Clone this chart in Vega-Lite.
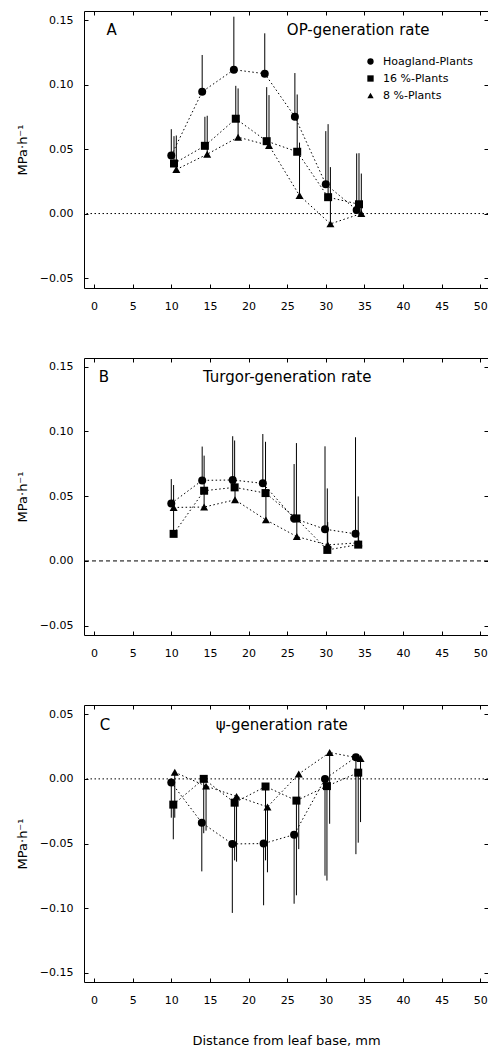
{
  "$schema": "https://vega.github.io/schema/vega-lite/v6.json",
  "padding": {"left": 15, "top": 10, "right": 0, "bottom": 0},
  "background": "white",
  "bounds": "flush",
  "spacing": 70,
  "config": {
    "view": {"stroke": "black", "strokeWidth": 1},
    "font": "DejaVu Sans",
    "axis": {"domain": false, "grid": false, "tickSize": -4, "tickColor": "black", "tickWidth": 1, "labelFont": "DejaVu Sans", "labelFontSize": 11, "labelColor": "black", "titleFont": "DejaVu Sans", "titleColor": "black", "titleFontWeight": "normal"},
    "legend": {"labelFont": "DejaVu Sans", "labelFontSize": 11, "labelColor": "black"}
  },
  "resolve": {"scale": {"shape": "independent"}, "legend": {"shape": "independent"}},
  "datasets": {
    "A": [
      {"s": "Hoagland-Plants", "x": 10, "y": 0.045, "e": 0.0654},
      {"s": "Hoagland-Plants", "x": 14, "y": 0.0944, "e": 0.1229},
      {"s": "Hoagland-Plants", "x": 18.1, "y": 0.1115, "e": 0.1526},
      {"s": "Hoagland-Plants", "x": 22.1, "y": 0.1084, "e": 0.1397},
      {"s": "Hoagland-Plants", "x": 26, "y": 0.075, "e": 0.1089},
      {"s": "Hoagland-Plants", "x": 30, "y": 0.0228, "e": 0.0639},
      {"s": "Hoagland-Plants", "x": 34, "y": 0.0028, "e": 0.0466},
      {"s": "16 %-Plants", "x": 10.35, "y": 0.0388, "e": 0.06},
      {"s": "16 %-Plants", "x": 14.35, "y": 0.0525, "e": 0.075},
      {"s": "16 %-Plants", "x": 18.35, "y": 0.0735, "e": 0.099},
      {"s": "16 %-Plants", "x": 22.35, "y": 0.0561, "e": 0.098},
      {"s": "16 %-Plants", "x": 26.3, "y": 0.0479, "e": 0.0923},
      {"s": "16 %-Plants", "x": 30.3, "y": 0.0127, "e": 0.0693},
      {"s": "16 %-Plants", "x": 34.3, "y": 0.0072, "e": 0.0468},
      {"s": "8 %-Plants", "x": 10.65, "y": 0.0341, "e": 0.0605},
      {"s": "8 %-Plants", "x": 14.65, "y": 0.046, "e": 0.0758},
      {"s": "8 %-Plants", "x": 18.65, "y": 0.0592, "e": 0.097},
      {"s": "8 %-Plants", "x": 22.65, "y": 0.0528, "e": 0.0918},
      {"s": "8 %-Plants", "x": 26.6, "y": 0.014, "e": 0.055},
      {"s": "8 %-Plants", "x": 30.6, "y": -0.008, "e": 0.036},
      {"s": "8 %-Plants", "x": 34.6, "y": 0.0, "e": 0.031}
    ],
    "B": [
      {"s": "Hoagland-Plants", "x": 10, "y": 0.0444, "e": 0.0632},
      {"s": "Hoagland-Plants", "x": 14, "y": 0.0622, "e": 0.0883},
      {"s": "Hoagland-Plants", "x": 17.95, "y": 0.0625, "e": 0.0963},
      {"s": "Hoagland-Plants", "x": 21.85, "y": 0.0599, "e": 0.098},
      {"s": "Hoagland-Plants", "x": 25.9, "y": 0.0328, "e": 0.0748},
      {"s": "Hoagland-Plants", "x": 29.9, "y": 0.0245, "e": 0.0885},
      {"s": "Hoagland-Plants", "x": 33.85, "y": 0.0209, "e": 0.0955},
      {"s": "16 %-Plants", "x": 10.3, "y": 0.0209, "e": 0.0586},
      {"s": "16 %-Plants", "x": 14.25, "y": 0.0542, "e": 0.0813},
      {"s": "16 %-Plants", "x": 18.2, "y": 0.0568, "e": 0.093},
      {"s": "16 %-Plants", "x": 22.2, "y": 0.0524, "e": 0.092},
      {"s": "16 %-Plants", "x": 26.2, "y": 0.0328, "e": 0.091},
      {"s": "16 %-Plants", "x": 30.2, "y": 0.0085, "e": 0.056},
      {"s": "16 %-Plants", "x": 34.2, "y": 0.0126, "e": 0.0498},
      {"s": "8 %-Plants", "x": 10.3, "y": 0.0413, "e": 0.048},
      {"s": "8 %-Plants", "x": 14.25, "y": 0.0416, "e": 0.054},
      {"s": "8 %-Plants", "x": 18.25, "y": 0.0472, "e": 0.06},
      {"s": "8 %-Plants", "x": 22.25, "y": 0.0317, "e": 0.052},
      {"s": "8 %-Plants", "x": 26.25, "y": 0.0188, "e": 0.033},
      {"s": "8 %-Plants", "x": 30.25, "y": 0.0124, "e": 0.03},
      {"s": "8 %-Plants", "x": 34.25, "y": 0.014, "e": 0.02}
    ],
    "C": [
      {"s": "Hoagland-Plants", "x": 10, "y": -0.0028, "e": -0.03},
      {"s": "Hoagland-Plants", "x": 13.95, "y": -0.0339, "e": -0.0715},
      {"s": "Hoagland-Plants", "x": 17.9, "y": -0.0503, "e": -0.1036},
      {"s": "Hoagland-Plants", "x": 21.95, "y": -0.05, "e": -0.0977},
      {"s": "Hoagland-Plants", "x": 25.9, "y": -0.0431, "e": -0.0965},
      {"s": "Hoagland-Plants", "x": 29.9, "y": 0.0, "e": -0.0748},
      {"s": "Hoagland-Plants", "x": 33.9, "y": 0.0168, "e": -0.0582},
      {"s": "16 %-Plants", "x": 10.26, "y": -0.0199, "e": -0.0467},
      {"s": "16 %-Plants", "x": 14.2, "y": 0.0, "e": -0.042},
      {"s": "16 %-Plants", "x": 18.2, "y": -0.0184, "e": -0.063},
      {"s": "16 %-Plants", "x": 22.2, "y": -0.0059, "e": -0.063},
      {"s": "16 %-Plants", "x": 26.2, "y": -0.0168, "e": -0.09},
      {"s": "16 %-Plants", "x": 30.15, "y": -0.0056, "e": -0.0786},
      {"s": "16 %-Plants", "x": 34.2, "y": 0.0048, "e": -0.0493},
      {"s": "8 %-Plants", "x": 10.45, "y": 0.0051, "e": -0.03},
      {"s": "8 %-Plants", "x": 14.5, "y": -0.0056, "e": -0.04},
      {"s": "8 %-Plants", "x": 18.45, "y": -0.0135, "e": -0.064},
      {"s": "8 %-Plants", "x": 22.45, "y": -0.0217, "e": -0.0722},
      {"s": "8 %-Plants", "x": 26.5, "y": 0.0038, "e": -0.0543},
      {"s": "8 %-Plants", "x": 30.5, "y": 0.0204, "e": -0.0347},
      {"s": "8 %-Plants", "x": 34.5, "y": 0.0158, "e": -0.0334}
    ]
  },
  "vconcat": [
    {
      "width": 404, "height": 277,
      "data": {"name": "A"},
      "resolve": {"axis": {"x": "independent", "y": "independent"}},
      "layer": [
        {
          "data": {"values": [{}]},
          "mark": {"type": "rule", "strokeDash": [1.5, 2.5], "color": "black", "strokeWidth": 1},
          "encoding": {"y": {"datum": 0, "type": "quantitative", "scale": {"domain": [-0.0577, 0.157], "nice": false, "zero": false}, "axis": null}}
        },
        {
          "mark": {"type": "rule", "color": "black", "strokeWidth": 1},
          "encoding": {
            "x": {"field": "x", "type": "quantitative", "scale": {"domain": [-1.3, 51], "nice": false, "zero": false}, "axis": {"orient": "bottom", "values": [0,5,10,15,20,25,30,35,40,45,50], "title": null, "labelPadding": 16}},
            "y": {"field": "y", "type": "quantitative", "scale": {"domain": [-0.0577, 0.157], "nice": false, "zero": false}, "axis": {"orient": "left", "values": [-0.05,0,0.05,0.1,0.15], "format": ".2f", "labelPadding": 15, "title": "MPa·h⁻¹", "titleX": -62, "titleY": 138.5, "titleBaseline": "middle", "titleFontSize": 13}},
            "y2": {"field": "e"}
          }
        },
        {
          "mark": {"type": "line", "strokeDash": [1.5, 2.5], "color": "black", "strokeWidth": 1},
          "encoding": {
            "x": {"field": "x", "type": "quantitative", "scale": {"domain": [-1.3, 51], "nice": false, "zero": false}, "axis": null},
            "y": {"field": "y", "type": "quantitative", "scale": {"domain": [-0.0577, 0.157], "nice": false, "zero": false}, "axis": null},
            "detail": {"field": "s"}
          }
        },
        {
          "mark": {"type": "point", "filled": true, "opacity": 1, "size": 64, "color": "black"},
          "encoding": {
            "x": {"field": "x", "type": "quantitative", "scale": {"domain": [-1.3, 51], "nice": false, "zero": false}, "axis": {"orient": "top", "values": [0,5,10,15,20,25,30,35,40,45,50], "labels": false, "title": null}},
            "y": {"field": "y", "type": "quantitative", "scale": {"domain": [-0.0577, 0.157], "nice": false, "zero": false}, "axis": {"orient": "right", "values": [-0.05,0,0.05,0.1,0.15], "labels": false, "title": null}},
            "shape": {"field": "s", "type": "nominal", "scale": {"domain": ["Hoagland-Plants", "16 %-Plants", "8 %-Plants"], "range": ["circle", "square", "triangle-up"]}, "legend": {"orient": "none", "legendX": 281, "legendY": 45, "title": null, "symbolSize": 40, "labelOffset": 7, "rowPadding": 4, "labelExpr": "datum.label == '8 %-Plants' ? '\u20078 %-Plants' : datum.label"}}
          }
        },
        {
          "data": {"values": [{"label": "A"}]},
          "mark": {"type": "text", "align": "left", "baseline": "middle", "fontSize": 15, "font": "DejaVu Sans", "color": "black"},
          "encoding": {
            "x": {"datum": 1.6, "type": "quantitative", "axis": null},
            "y": {"datum": 0.142, "type": "quantitative", "axis": null},
            "text": {"field": "label"}
          }
        },
        {
          "data": {"values": [{"label": "OP-generation rate"}]},
          "mark": {"type": "text", "align": "center", "baseline": "middle", "fontSize": 15, "font": "DejaVu Sans", "color": "black"},
          "encoding": {
            "x": {"datum": 34.2, "type": "quantitative", "axis": null},
            "y": {"datum": 0.142, "type": "quantitative", "axis": null},
            "text": {"field": "label"}
          }
        }
      ]
    },
    {
      "width": 404, "height": 277,
      "data": {"name": "B"},
      "resolve": {"axis": {"x": "independent", "y": "independent"}},
      "layer": [
        {
          "data": {"values": [{}]},
          "mark": {"type": "rule", "strokeDash": [4, 3], "color": "black", "strokeWidth": 1},
          "encoding": {"y": {"datum": 0, "type": "quantitative", "scale": {"domain": [-0.0572, 0.1567], "nice": false, "zero": false}, "axis": null}}
        },
        {
          "mark": {"type": "rule", "color": "black", "strokeWidth": 1},
          "encoding": {
            "x": {"field": "x", "type": "quantitative", "scale": {"domain": [-1.3, 51], "nice": false, "zero": false}, "axis": {"orient": "bottom", "values": [0,5,10,15,20,25,30,35,40,45,50], "title": null, "labelPadding": 16}},
            "y": {"field": "y", "type": "quantitative", "scale": {"domain": [-0.0572, 0.1567], "nice": false, "zero": false}, "axis": {"orient": "left", "values": [-0.05,0,0.05,0.1,0.15], "format": ".2f", "labelPadding": 15, "title": "MPa·h⁻¹", "titleX": -62, "titleY": 138.5, "titleBaseline": "middle", "titleFontSize": 13}},
            "y2": {"field": "e"}
          }
        },
        {
          "mark": {"type": "line", "strokeDash": [1.5, 2.5], "color": "black", "strokeWidth": 1},
          "encoding": {
            "x": {"field": "x", "type": "quantitative", "scale": {"domain": [-1.3, 51], "nice": false, "zero": false}, "axis": null},
            "y": {"field": "y", "type": "quantitative", "scale": {"domain": [-0.0572, 0.1567], "nice": false, "zero": false}, "axis": null},
            "detail": {"field": "s"}
          }
        },
        {
          "mark": {"type": "point", "filled": true, "opacity": 1, "size": 64, "color": "black"},
          "encoding": {
            "x": {"field": "x", "type": "quantitative", "scale": {"domain": [-1.3, 51], "nice": false, "zero": false}, "axis": {"orient": "top", "values": [0,5,10,15,20,25,30,35,40,45,50], "labels": false, "title": null}},
            "y": {"field": "y", "type": "quantitative", "scale": {"domain": [-0.0572, 0.1567], "nice": false, "zero": false}, "axis": {"orient": "right", "values": [-0.05,0,0.05,0.1,0.15], "labels": false, "title": null}},
            "shape": {"field": "s", "type": "nominal", "scale": {"domain": ["Hoagland-Plants", "16 %-Plants", "8 %-Plants"], "range": ["circle", "square", "triangle-up"]}, "legend": null}
          }
        },
        {
          "data": {"values": [{"label": "B"}]},
          "mark": {"type": "text", "align": "left", "baseline": "middle", "fontSize": 15, "font": "DejaVu Sans", "color": "black"},
          "encoding": {
            "x": {"datum": 0.6, "type": "quantitative", "axis": null},
            "y": {"datum": 0.142, "type": "quantitative", "axis": null},
            "text": {"field": "label"}
          }
        },
        {
          "data": {"values": [{"label": "Turgor-generation rate"}]},
          "mark": {"type": "text", "align": "center", "baseline": "middle", "fontSize": 15, "font": "DejaVu Sans", "color": "black"},
          "encoding": {
            "x": {"datum": 25.0, "type": "quantitative", "axis": null},
            "y": {"datum": 0.142, "type": "quantitative", "axis": null},
            "text": {"field": "label"}
          }
        }
      ]
    },
    {
      "width": 404, "height": 277,
      "data": {"name": "C"},
      "resolve": {"axis": {"x": "independent", "y": "independent"}},
      "layer": [
        {
          "data": {"values": [{}]},
          "mark": {"type": "rule", "strokeDash": [1.5, 2.5], "color": "black", "strokeWidth": 1},
          "encoding": {"y": {"datum": 0, "type": "quantitative", "scale": {"domain": [-0.157, 0.0571], "nice": false, "zero": false}, "axis": null}}
        },
        {
          "mark": {"type": "rule", "color": "black", "strokeWidth": 1},
          "encoding": {
            "x": {"field": "x", "type": "quantitative", "scale": {"domain": [-1.3, 51], "nice": false, "zero": false}, "axis": {"orient": "bottom", "values": [0,5,10,15,20,25,30,35,40,45,50], "labelPadding": 16, "title": "Distance from leaf base, mm", "titleFontSize": 13, "titleY": 58, "titleBaseline": "middle"}},
            "y": {"field": "y", "type": "quantitative", "scale": {"domain": [-0.157, 0.0571], "nice": false, "zero": false}, "axis": {"orient": "left", "values": [-0.15,-0.1,-0.05,0,0.05], "format": ".2f", "labelPadding": 15, "title": "MPa·h⁻¹", "titleX": -62, "titleY": 138.5, "titleBaseline": "middle", "titleFontSize": 13}},
            "y2": {"field": "e"}
          }
        },
        {
          "mark": {"type": "line", "strokeDash": [1.5, 2.5], "color": "black", "strokeWidth": 1},
          "encoding": {
            "x": {"field": "x", "type": "quantitative", "scale": {"domain": [-1.3, 51], "nice": false, "zero": false}, "axis": null},
            "y": {"field": "y", "type": "quantitative", "scale": {"domain": [-0.157, 0.0571], "nice": false, "zero": false}, "axis": null},
            "detail": {"field": "s"}
          }
        },
        {
          "mark": {"type": "point", "filled": true, "opacity": 1, "size": 64, "color": "black"},
          "encoding": {
            "x": {"field": "x", "type": "quantitative", "scale": {"domain": [-1.3, 51], "nice": false, "zero": false}, "axis": {"orient": "top", "values": [0,5,10,15,20,25,30,35,40,45,50], "labels": false, "title": null}},
            "y": {"field": "y", "type": "quantitative", "scale": {"domain": [-0.157, 0.0571], "nice": false, "zero": false}, "axis": {"orient": "right", "values": [-0.15,-0.1,-0.05,0,0.05], "labels": false, "title": null}},
            "shape": {"field": "s", "type": "nominal", "scale": {"domain": ["Hoagland-Plants", "16 %-Plants", "8 %-Plants"], "range": ["circle", "square", "triangle-up"]}, "legend": null}
          }
        },
        {
          "data": {"values": [{"label": "C"}]},
          "mark": {"type": "text", "align": "left", "baseline": "middle", "fontSize": 15, "font": "DejaVu Sans", "color": "black"},
          "encoding": {
            "x": {"datum": 0.75, "type": "quantitative", "axis": null},
            "y": {"datum": 0.0413, "type": "quantitative", "axis": null},
            "text": {"field": "label"}
          }
        },
        {
          "data": {"values": [{"label": "ψ-generation rate"}]},
          "mark": {"type": "text", "align": "center", "baseline": "middle", "fontSize": 15, "font": "DejaVu Sans", "color": "black"},
          "encoding": {
            "x": {"datum": 24.3, "type": "quantitative", "axis": null},
            "y": {"datum": 0.0413, "type": "quantitative", "axis": null},
            "text": {"field": "label"}
          }
        }
      ]
    }
  ]
}
